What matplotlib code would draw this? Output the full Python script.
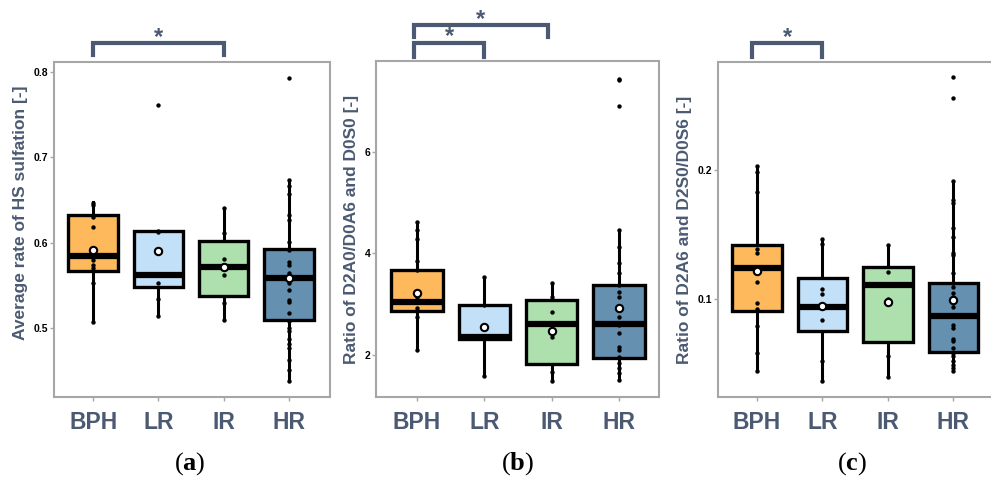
#Box plots of HS sulfation rate and disaccharide ratios for BPH, LR, IR and HR groups
import matplotlib
matplotlib.use("Agg")
import matplotlib.pyplot as plt
import matplotlib.transforms as mtransforms

plt.rcParams['font.family'] = ['Liberation Sans', 'DejaVu Sans']
plt.rcParams['mathtext.fontset'] = 'custom'
plt.rcParams['mathtext.rm'] = 'Liberation Serif'
plt.rcParams['mathtext.bf'] = 'Liberation Serif:bold'

#---Data---
Groups = ["BPH", "LR", "IR", "HR"]
Colours = ["#FDB95C", "#C2E0F7", "#ADE0AD", "#6690B0"]

#Panel (a): average rate of HS sulfation
A_Q1 = [0.567, 0.548, 0.537, 0.509]
A_Med = [0.584, 0.562, 0.571, 0.559]
A_Q3 = [0.632, 0.614, 0.602, 0.593]
A_Lo = [0.507, 0.514, 0.509, 0.438]
A_Hi = [0.648, 0.614, 0.641, 0.673]
A_Mean = [0.592, 0.590, 0.571, 0.559]
A_Points = [
    [0.647, 0.644, 0.630, 0.618, 0.584, 0.580, 0.574, 0.570, 0.553, 0.507],
    [0.761, 0.614, 0.612, 0.553, 0.534, 0.514],
    [0.641, 0.611, 0.581, 0.562, 0.529, 0.509],
    [0.793, 0.673, 0.667, 0.657, 0.633, 0.627, 0.601, 0.592, 0.577, 0.574,
     0.564, 0.553, 0.544, 0.533, 0.530, 0.517, 0.508, 0.500, 0.496, 0.487,
     0.481, 0.477, 0.462, 0.451, 0.438],
]

#Panel (b): ratio of D2A0/D0A6 and D0S0
B_Q1 = [2.87, 2.30, 1.81, 1.94]
B_Med = [3.03, 2.34, 2.60, 2.60]
B_Q3 = [3.66, 2.97, 3.07, 3.38]
B_Lo = [2.10, 1.58, 1.49, 1.50]
B_Hi = [4.62, 3.54, 3.41, 4.46]
B_Mean = [3.21, 2.55, 2.47, 2.92]
B_Points = [
    [4.62, 4.46, 4.28, 3.84, 3.66, 3.14, 3.03, 2.92, 2.75, 2.10],
    [3.54, 2.97, 2.34, 1.58],
    [3.41, 3.14, 2.85, 2.34, 1.66, 1.49],
    [7.44, 7.41, 6.90, 4.46, 4.13, 3.80, 3.61, 3.38, 3.24, 3.14, 2.75, 2.59,
     2.42, 2.16, 2.09, 1.96, 1.83, 1.73, 1.63, 1.50],
]

#Panel (c): ratio of D2A6 and D2S0/D0S6
C_Q1 = [0.0907, 0.0755, 0.0668, 0.0590]
C_Med = [0.124, 0.0943, 0.111, 0.0871]
C_Q3 = [0.1418, 0.1162, 0.1247, 0.1129]
C_Lo = [0.0441, 0.0363, 0.0397, 0.0446]
C_Hi = [0.2034, 0.147, 0.1418, 0.1915]
C_Mean = [0.122, 0.0948, 0.0977, 0.099]
C_Points = [
    [0.2034, 0.1987, 0.183, 0.139, 0.1356, 0.113, 0.097, 0.092, 0.0796, 0.0582, 0.0441],
    [0.147, 0.143, 0.108, 0.104, 0.0835, 0.052, 0.0363],
    [0.1418, 0.121, 0.100, 0.098, 0.0557, 0.0397],
    [0.272, 0.256, 0.1915, 0.1768, 0.1747, 0.155, 0.1485, 0.1356, 0.1343, 0.120,
     0.1129, 0.1098, 0.1046, 0.102, 0.097, 0.0943, 0.0802, 0.0776, 0.069, 0.0673,
     0.062, 0.0582, 0.0557, 0.0518, 0.0492, 0.0467, 0.0446],
]
#----------------

Slate = "#4B5A72"
FrameGrey = "#A6A6A6"

fig = plt.figure(figsize=(9.91, 4.79), dpi=100)

def Panel(Rect, Q1, Med, Q3, Lo, Hi, Mean, Points, YLim, YTicks, YLabel, XLim, Letter, LetterX,
          Brackets, LabelY=0.5):
    ax = fig.add_axes(Rect)
    Stats = []
    for i in range(len(Groups)):
        Stats.append({"q1": Q1[i], "med": Med[i], "q3": Q3[i],
                      "whislo": Lo[i], "whishi": Hi[i], "fliers": [], "label": Groups[i]})
    Pos = list(range(1, len(Groups) + 1))
    bp = ax.bxp(Stats, positions=Pos, widths=0.76, showfliers=False, showcaps=False,
                patch_artist=True, zorder=2,
                boxprops=dict(linewidth=2.4, edgecolor="black"),
                whiskerprops=dict(linewidth=2.2, color="black"),
                medianprops=dict(linewidth=4.5, color="black", solid_capstyle="butt"))
    for Patch, Col in zip(bp["boxes"], Colours):
        Patch.set_facecolor(Col)
    #Whiskers should sit behind the box
    for W in bp["whiskers"]:
        W.set_zorder(1)
    for i in range(len(Groups)):
        ax.scatter([Pos[i]] * len(Points[i]), Points[i], s=10, c="black", zorder=3, linewidths=0)
    ax.scatter(Pos, Mean, s=28, c="white", edgecolors="black", linewidths=1.5, zorder=4)

    ax.set_xlim(XLim)
    ax.set_ylim(YLim)
    ax.set_yticks(YTicks)
    ax.set_yticklabels([str(t) for t in YTicks], fontsize=7.5, fontweight="bold", color="black")
    ax.set_xticks(Pos)
    ax.set_xticklabels(Groups, fontsize=16.5, fontweight="bold", color=Slate)
    ax.tick_params(axis="x", length=3, width=1, color=FrameGrey, pad=7)
    ax.tick_params(axis="y", length=3, width=1, color=FrameGrey, pad=1)
    for S in ax.spines.values():
        S.set_color(FrameGrey)
        S.set_linewidth(1.5)
    ax.set_ylabel(YLabel, fontsize=12.5, fontweight="bold", color=Slate, labelpad=4)
    ax.yaxis.label.set_y(LabelY)

    Trans = mtransforms.blended_transform_factory(ax.transData, ax.transAxes)
    for (X1, X2, Top, Leg) in Brackets:
        ax.plot([X1, X1, X2, X2], [Leg, Top, Top, Leg], color=Slate, linewidth=3,
                transform=Trans, clip_on=False, solid_joinstyle="miter")
        ax.text((X1 + X2) / 2, Top - 0.002, "*", transform=Trans, ha="center", va="baseline",
                fontsize=17, fontweight="bold", color=Slate)

    fig.text(LetterX, 0.033, r"($\mathbf{" + Letter + "}$)", ha="center", va="center",
             fontsize=19, family="Liberation Serif")
    return ax

Panel([0.0545, 0.1712, 0.2785, 0.6994], A_Q1, A_Med, A_Q3, A_Lo, A_Hi, A_Mean, A_Points,
      (0.419, 0.812), [0.5, 0.6, 0.7, 0.8], "Average rate of HS sulfation [-]", (0.4, 4.63),
      "a", 190 / 991, [(1, 3, 1.057, 1.021)], LabelY=0.55)
Panel([0.3794, 0.1712, 0.2856, 0.7015], B_Q1, B_Med, B_Q3, B_Lo, B_Hi, B_Mean, B_Points,
      (1.165, 7.79), [2, 4, 6], "Ratio of D2A0/D0A6 and D0S0 [-]", (0.39, 4.595),
      "b", 518 / 991, [(0.95, 2.95, 1.107, 1.071), (0.95, 2.0, 1.054, 1.012)])
Panel([0.7245, 0.1712, 0.2825, 0.6994], C_Q1, C_Med, C_Q3, C_Lo, C_Hi, C_Mean, C_Points,
      (0.0242, 0.2838), [0.1, 0.2], "Ratio of D2A6 and D2S0/D0S6 [-]", (0.405, 4.68),
      "c", 852 / 991, [(0.92, 2.0, 1.057, 1.015)])

plt.savefig("out.png", dpi=100)
